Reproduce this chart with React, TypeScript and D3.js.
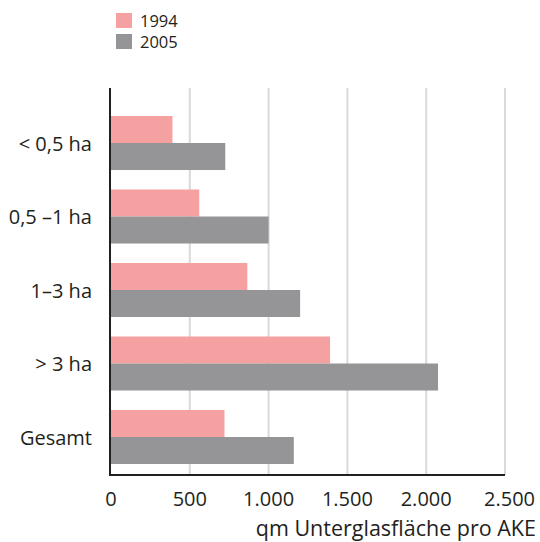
import React from "react";
import * as d3 from "d3";

const categories = ["< 0,5 ha", "0,5 –1 ha", "1–3 ha", "> 3 ha", "Gesamt"];
const series = ["1994", "2005"];
const values1994 = [390, 560, 865, 1390, 720];
const values2005 = [725, 1000, 1200, 2075, 1160];
const xTicks = [0, 500, 1000, 1500, 2000, 2500];
const colors = ["#f6a1a1", "#959598"];

const W = 540;
const H = 542;
const FONT = "'Open Sans', 'Noto Sans', sans-serif";

export default function App() {
  const x = d3.scaleLinear().domain([0, 2500]).range([111, 505]);
  const y = d3
    .scaleBand<string>()
    .domain(categories)
    .range([106.25, 473.75])
    .paddingInner(0.265)
    .paddingOuter(0.1325);
  const sub = d3.scaleBand<string>().domain(series).range([0, y.bandwidth()]);
  const fmt = (v: number) => d3.format(",")(v).replace(/,/g, ".");
  const data = [values1994, values2005];

  return (
    <svg
      width={W}
      height={H}
      style={{ position: "absolute", left: 0, top: 0, background: "#fff" }}
      fontFamily={FONT}
    >
      {xTicks.slice(1).map((t) => (
        <line key={t} x1={x(t)} x2={x(t)} y1={88} y2={475} stroke="#d9d9d9" strokeWidth={2} />
      ))}
      {categories.map((c, i) =>
        series.map((s, j) => (
          <rect
            key={c + s}
            x={x(0)}
            y={(y(c) as number) + (sub(s) as number)}
            width={x(data[j][i]) - x(0)}
            height={sub.bandwidth()}
            fill={colors[j]}
          />
        ))
      )}
      <line x1={110} x2={110} y1={88} y2={476} stroke="#231f20" strokeWidth={2} />
      <line x1={109} x2={505} y1={475} y2={475} stroke="#231f20" strokeWidth={2} />
      {categories.map((c) => (
        <text
          key={c}
          x={92}
          y={(y(c) as number) + y.bandwidth() / 2}
          textAnchor="end"
          dominantBaseline="central"
          fontSize={20}
          fill="#231f20"
        >
          {c}
        </text>
      ))}
      {xTicks.map((t, i) => (
        <text
          key={t}
          x={i === xTicks.length - 1 ? 535 : x(t)}
          y={506}
          textAnchor={i === xTicks.length - 1 ? "end" : "middle"}
          fontSize={20}
          fill="#231f20"
        >
          {fmt(t)}
        </text>
      ))}
      <text x={536} y={536} textAnchor="end" fontSize={21.5} fill="#231f20">
        qm Unterglasfläche pro AKE
      </text>
      {series.map((s, j) => (
        <g key={s} transform={`translate(116, ${13 + j * 21})`}>
          <rect width={16} height={15} fill={colors[j]} />
          <text x={24} y={7.5} dominantBaseline="central" fontSize={16.5} fill="#231f20">
            {s}
          </text>
        </g>
      ))}
    </svg>
  );
}
